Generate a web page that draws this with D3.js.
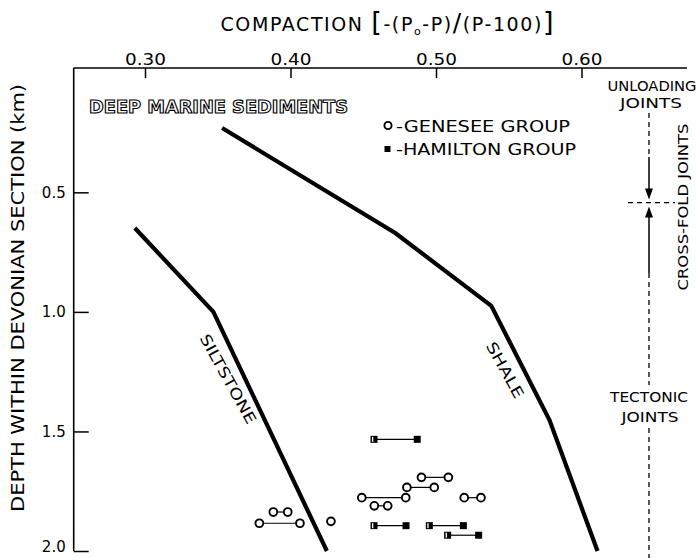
<!DOCTYPE html>
<meta charset="utf-8">
<script src="https://d3js.org/d3.v7.min.js"></script>
<style>
  body { margin: 0; background: #fff; }
  text { font-family: 'DejaVu Sans', sans-serif; fill: #000; }
</style>
<body>
<div id="chart"></div>
<script>

// compaction ticks (top axis) and depth ticks (left axis)
var xTicks = [0.30, 0.40, 0.50, 0.60]
var yTicks = [0.5, 1.0, 1.5, 2.0]

// trend lines: [compaction, depth km]
var shale = [[0.353, 0.231], [0.472, 0.670], [0.538, 0.975], [0.578, 1.452], [0.611, 2.0]]
var siltstone = [[0.293, 0.649], [0.347, 1.0], [0.425, 2.0]]

// measured pairs: [compaction left, compaction right, depth]
var genesee = [
  [0.490, 0.5085, 1.692],
  [0.480, 0.4988, 1.734],
  [0.449, 0.4792, 1.777],
  [0.4576, 0.4668, 1.811],
  [0.5194, 0.5309, 1.777],
  [0.3882, 0.3981, 1.837],
  [0.3786, 0.4065, 1.884]
]
var geneseeSingle = [[0.4278, 1.876]]
var hamilton = [
  [0.4574, 0.4871, 1.533],
  [0.4574, 0.4794, 1.894],
  [0.4954, 0.5188, 1.894],
  [0.5080, 0.5293, 1.934]
]

// joint zones on the right side (depth of cross-fold boundary)
var crossFoldDepth = 0.543

var width = 698, height = 558
var wide = "spacingAndGlyphs"

var svg = d3.select("#chart").append("svg")
    .attr("width", width)
    .attr("height", height)

var x = d3.scaleLinear().domain([0.30, 0.60]).range([145, 581.5])
var y = d3.scaleLinear().domain([-0.02, 2.0]).range([68, 551])

var xMin = 0.251, xMax = 0.6725

// frame lines
svg.append("line")
  .attr("x1", x(xMin)).attr("x2", x(xMax))
  .attr("y1", y(-0.02)).attr("y2", y(-0.02))
  .attr("stroke", "#000").attr("stroke-width", 1.6)
svg.append("line")
  .attr("x1", x(xMin)).attr("x2", x(xMin))
  .attr("y1", y(-0.02)).attr("y2", y(2.0))
  .attr("stroke", "#000").attr("stroke-width", 1.6)

// top axis
var gx = svg.append("g")
  .attr("transform", "translate(0," + y(-0.02) + ")")
  .call(d3.axisTop(x).tickValues(xTicks).tickSize(-10).tickPadding(3)
    .tickFormat(d3.format(".2f")))
gx.select(".domain").remove()
gx.selectAll("line").attr("stroke-width", 1.5)
gx.selectAll("text")
  .style("font-size", "16px").style("font-family", "'DejaVu Sans', sans-serif")
  .attr("textLength", 41).attr("lengthAdjust", wide)

// left axis
var gy = svg.append("g")
  .attr("transform", "translate(" + x(xMin) + ",0)")
  .call(d3.axisLeft(y).tickValues(yTicks).tickSize(-15).tickPadding(8)
    .tickFormat(d3.format(".1f")))
gy.select(".domain").remove()
gy.selectAll("line").attr("stroke-width", 1.5)
gy.selectAll("text").style("font-size", "15px").style("font-family", "'DejaVu Sans', sans-serif")
gy.selectAll("text").filter(function(d) { return d === 2.0 }).attr("dy", "0.05em")

// axis titles
var title = svg.append("text")
  .attr("x", 387).attr("y", 31)
  .attr("text-anchor", "middle")
  .attr("textLength", 333)
  .attr("lengthAdjust", "spacing")
  .style("font-size", "19px")
title.append("tspan").text("COMPACTION ")
title.append("tspan").style("font-size", "27px").text("[")
title.append("tspan").text("-(P")
title.append("tspan").attr("dy", 4).style("font-size", "11px").text("o")
title.append("tspan").attr("dy", -4).text("-P)")
title.append("tspan").style("font-size", "25px").text("/")
title.append("tspan").text("(P-100)")
title.append("tspan").style("font-size", "27px").text("]")

svg.append("text")
  .attr("transform", "translate(18,298) rotate(-90)")
  .attr("text-anchor", "middle")
  .attr("dy", "0.35em")
  .attr("textLength", 428).attr("lengthAdjust", wide)
  .style("font-size", "17px")
  .text("DEPTH WITHIN DEVONIAN SECTION (km)")

// outlined label
svg.append("text")
  .attr("x", 89).attr("y", 113)
  .attr("textLength", 259).attr("lengthAdjust", wide)
  .style("font-size", "17px")
  .style("font-weight", "bold")
  .style("fill", "#fff")
  .style("stroke", "#000")
  .style("stroke-width", 1.1)
  .text("DEEP MARINE SEDIMENTS")

// trend lines
var line = d3.line()
  .x(function(d) { return x(d[0]) })
  .y(function(d) { return y(d[1]) })

svg.append("path").datum(shale)
  .attr("d", line)
  .attr("fill", "none").attr("stroke", "#000").attr("stroke-width", 4.2)
svg.append("path").datum(siltstone)
  .attr("d", line)
  .attr("fill", "none").attr("stroke", "#000").attr("stroke-width", 4.2)

svg.append("text")
  .attr("transform", "translate(228,379) rotate(61)")
  .attr("text-anchor", "middle")
  .attr("dy", "0.35em")
  .attr("textLength", 100).attr("lengthAdjust", wide)
  .style("font-size", "15px")
  .text("SILTSTONE")
svg.append("text")
  .attr("transform", "translate(505,370) rotate(61)")
  .attr("text-anchor", "middle")
  .attr("dy", "0.35em")
  .attr("textLength", 62).attr("lengthAdjust", wide)
  .style("font-size", "15px")
  .text("SHALE")

// data pairs
svg.selectAll(".gLink").data(genesee).enter().append("line")
  .attr("x1", function(d) { return x(d[0]) })
  .attr("x2", function(d) { return x(d[1]) })
  .attr("y1", function(d) { return y(d[2]) })
  .attr("y2", function(d) { return y(d[2]) })
  .attr("stroke", "#000").attr("stroke-width", 1.2)
svg.selectAll(".hLink").data(hamilton).enter().append("line")
  .attr("x1", function(d) { return x(d[0]) })
  .attr("x2", function(d) { return x(d[1]) })
  .attr("y1", function(d) { return y(d[2]) })
  .attr("y2", function(d) { return y(d[2]) })
  .attr("stroke", "#000").attr("stroke-width", 1.2)

var gPts = []
genesee.forEach(function(d) { gPts.push([d[0], d[2]]); gPts.push([d[1], d[2]]) })
geneseeSingle.forEach(function(d) { gPts.push(d) })
svg.selectAll(".gPt").data(gPts).enter().append("circle")
  .attr("cx", function(d) { return x(d[0]) })
  .attr("cy", function(d) { return y(d[1]) })
  .attr("r", 3.9)
  .attr("fill", "#fff").attr("stroke", "#000").attr("stroke-width", 1.9)

var hPts = []
hamilton.forEach(function(d) { hPts.push([d[0], d[2], 0]); hPts.push([d[1], d[2], 1]) })
svg.selectAll(".hPt").data(hPts).enter().append("rect")
  .attr("x", function(d) { return x(d[0]) - 3.5 })
  .attr("y", function(d) { return y(d[1]) - 3.5 })
  .attr("width", 7).attr("height", 7)
  .attr("fill", "#000")
// left ends are drawn half open in the original
svg.selectAll(".hOpen").data(hPts.filter(function(d) { return d[2] === 0 })).enter().append("rect")
  .attr("x", function(d) { return x(d[0]) - 2 })
  .attr("y", function(d) { return y(d[1]) - 2.5 })
  .attr("width", 1.3).attr("height", 5)
  .attr("fill", "#fff")

// legend
svg.append("circle").attr("cx", 388).attr("cy", 125.5).attr("r", 3.6)
  .attr("fill", "#fff").attr("stroke", "#000").attr("stroke-width", 1.9)
svg.append("text").attr("x", 396).attr("y", 132).attr("textLength", 174).attr("lengthAdjust", wide)
  .style("font-size", "16px").text("-GENESEE GROUP")
svg.append("rect").attr("x", 384.5).attr("y", 146).attr("width", 6).attr("height", 6).attr("fill", "#000")
svg.append("text").attr("x", 396).attr("y", 155).attr("textLength", 180).attr("lengthAdjust", wide)
  .style("font-size", "16px").text("-HAMILTON GROUP")

// joint annotations on the right
var jx = 649
svg.append("text").attr("x", 652).attr("y", 91).attr("text-anchor", "middle")
  .attr("textLength", 89).attr("lengthAdjust", wide).style("font-size", "14px").text("UNLOADING")
svg.append("text").attr("x", 651).attr("y", 108).attr("text-anchor", "middle")
  .attr("textLength", 62).attr("lengthAdjust", wide).style("font-size", "14px").text("JOINTS")
svg.append("text").attr("x", 649).attr("y", 402).attr("text-anchor", "middle")
  .attr("textLength", 78).attr("lengthAdjust", wide).style("font-size", "14px").text("TECTONIC")
svg.append("text").attr("x", 650).attr("y", 422).attr("text-anchor", "middle")
  .attr("textLength", 57).attr("lengthAdjust", wide).style("font-size", "14px").text("JOINTS")
svg.append("text")
  .attr("transform", "translate(683,207) rotate(-90)")
  .attr("text-anchor", "middle").attr("dy", "0.35em")
  .attr("textLength", 167).attr("lengthAdjust", wide)
  .style("font-size", "14px").text("CROSS-FOLD JOINTS")

var dash = "5,4"
var yc = y(crossFoldDepth)
svg.append("line").attr("x1", jx).attr("x2", jx).attr("y1", 113).attr("y2", 157)
  .attr("stroke", "#000").attr("stroke-width", 1.3).attr("stroke-dasharray", dash)
svg.append("line").attr("x1", jx).attr("x2", jx).attr("y1", 157).attr("y2", yc - 10)
  .attr("stroke", "#000").attr("stroke-width", 1.5)
svg.append("path").attr("d", "M" + (jx - 4) + "," + (yc - 14) + "L" + (jx + 4) + "," + (yc - 14) + "L" + jx + "," + (yc - 3) + "Z")
svg.append("line").attr("x1", 628).attr("x2", 675).attr("y1", yc).attr("y2", yc)
  .attr("stroke", "#000").attr("stroke-width", 1.3).attr("stroke-dasharray", dash)
svg.append("path").attr("d", "M" + (jx - 4) + "," + (yc + 15) + "L" + (jx + 4) + "," + (yc + 15) + "L" + jx + "," + (yc + 4) + "Z")
svg.append("line").attr("x1", jx).attr("x2", jx).attr("y1", yc + 10).attr("y2", 273)
  .attr("stroke", "#000").attr("stroke-width", 1.5)
svg.append("line").attr("x1", jx).attr("x2", jx).attr("y1", 273).attr("y2", 385)
  .attr("stroke", "#000").attr("stroke-width", 1.3).attr("stroke-dasharray", dash)
svg.append("line").attr("x1", jx).attr("x2", jx).attr("y1", 428).attr("y2", 558)
  .attr("stroke", "#000").attr("stroke-width", 1.3).attr("stroke-dasharray", dash)

</script>
</body>
